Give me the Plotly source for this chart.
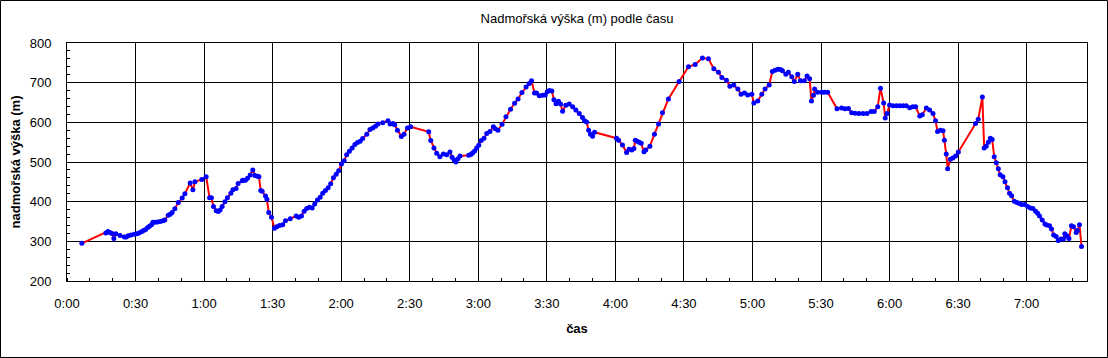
import plotly.graph_objects as go

# elapsed time in minutes
time_min = [
    6.5, 17.0, 17.9, 18.8, 19.7, 20.5, 21.4, 23.2, 25.1, 25.9, 26.8, 28.0, 29.4, 30.6, 31.5, 32.6,
    33.5, 34.4, 35.3, 36.1, 37.0, 37.6, 38.5, 39.6, 40.8, 42.0, 42.8, 44.3, 45.2, 46.0, 47.2, 48.7,
    50.4, 51.6, 53.9, 55.1, 56.0, 59.0, 60.9, 62.4, 63.2, 64.1, 65.3, 66.2, 67.0, 67.9, 69.1, 70.2,
    71.7, 72.6, 74.0, 74.9, 76.7, 77.0, 78.1, 79.0, 80.2, 81.3, 82.2, 83.4, 84.0, 84.8, 85.4, 86.9,
    87.5, 88.3, 89.5, 90.8, 91.8, 93.0, 94.4, 95.6, 97.7, 100.3, 101.4, 102.6, 103.8, 104.9, 106.1,
    107.3, 108.4, 109.6, 110.8, 111.9, 113.1, 114.3, 115.4, 116.6, 117.8, 118.9, 120.1, 121.3, 122.4,
    123.6, 124.8, 126.0, 127.1, 128.3, 129.4, 131.2, 132.6, 133.8, 135.0, 136.1, 138.2, 140.5, 141.4,
    142.6, 143.4, 144.6, 146.3, 147.5, 149.0, 150.4, 158.3, 159.2, 160.6, 161.8, 163.2, 164.7, 166.2,
    167.6, 168.5, 169.4, 170.2, 171.1, 172.0, 175.8, 176.7, 177.5, 178.4, 179.3, 180.2, 181.3, 182.5,
    183.7, 185.1, 186.6, 187.4, 188.6, 190.4, 192.1, 194.1, 195.9, 197.4, 199.1, 200.9, 202.3, 203.3,
    204.6, 205.5, 206.7, 208.1, 209.3, 210.2, 211.1, 212.2, 213.1, 214.0, 215.1, 216.0, 216.9, 218.3,
    219.8, 221.3, 222.7, 224.2, 225.6, 226.5, 227.4, 228.3, 229.1, 230.0, 230.9, 240.5, 241.4, 243.1,
    244.9, 246.0, 247.2, 248.1, 248.7, 249.5, 250.4, 251.3, 252.5, 253.3, 255.1, 257.1, 258.9, 260.6,
    263.2, 267.9, 272.0, 274.9, 278.1, 280.7, 283.1, 285.1, 286.6, 288.6, 290.1, 291.8, 293.6, 295.0,
    296.5, 297.9, 299.7, 300.6, 302.3, 304.1, 305.5, 307.3, 308.7, 309.9, 311.1, 312.2, 313.1, 314.6,
    315.7, 317.2, 318.3, 319.8, 321.0, 322.7, 323.9, 325.0, 325.8, 326.7, 327.2, 328.5, 330.3, 331.5,
    332.9, 337.0, 339.0, 340.5, 342.0, 343.4, 344.9, 346.6, 348.4, 350.1, 351.9, 353.3, 354.8, 356.0,
    357.4, 358.1, 358.9, 360.0, 361.5, 363.0, 364.4, 365.9, 367.3, 368.8, 370.2, 371.4, 373.2, 374.3,
    376.1, 377.5, 379.0, 380.1, 381.0, 382.2, 383.4, 384.0, 384.8, 385.4, 386.6, 387.7, 388.9, 390.1,
    397.6, 398.8, 400.6, 401.4, 402.3, 403.2, 404.1, 404.9, 405.8, 406.7, 407.6, 408.4, 409.6, 410.5,
    411.6, 412.5, 413.4, 414.6, 415.7, 416.6, 417.8, 419.2, 420.4, 421.6, 422.7, 423.9, 424.8, 425.6,
    426.8, 428.0, 428.8, 430.0, 430.9, 431.8, 432.9, 433.8, 435.0, 436.1, 436.7, 437.6, 438.5, 439.6,
    440.5, 441.7, 442.2, 443.1, 444.0,
]

# altitude in metres
altitude_m = [
    295, 321, 325, 322, 320, 307, 319, 315, 311, 311, 314, 316, 318, 319, 321, 324,
    327, 330, 335, 338, 342, 348, 348, 349, 350, 352, 354, 366, 368, 373, 382, 398,
    409, 420, 447, 430, 450, 456, 463, 410, 410, 388, 377, 375, 379, 388, 400, 410,
    421, 430, 433, 446, 453, 454, 454, 459, 467, 480, 466, 464, 463, 428, 426, 414,
    406, 373, 361, 333, 337, 340, 342, 352, 357, 364, 361, 364, 376, 383, 386,
    384, 394, 404, 411, 421, 428, 435, 445, 460, 469, 478, 495, 503, 518,
    527, 535, 544, 549, 552, 559, 570, 582, 586, 590, 596, 599, 604, 596,
    597, 594, 580, 564, 570, 586, 589, 576, 554, 535, 522, 513, 520, 518,
    525, 512, 505, 500, 508, 515, 517, 519, 523, 528, 535, 542, 554, 560,
    572, 577, 589, 584, 580, 595, 614, 633, 648, 659, 675, 689, 698, 705,
    674, 674, 667, 668, 669, 677, 680, 679, 657, 647, 653, 646, 628, 643,
    646, 639, 631, 622, 612, 604, 601, 580, 570, 565, 575, 560, 555, 543,
    524, 532, 530, 534, 555, 552, 550, 547, 526, 530, 540, 570, 596, 624,
    659, 703, 740, 746, 762, 760, 735, 726, 713, 706, 691, 694, 684, 671,
    674, 669, 671, 649, 654, 671, 684, 694, 728, 731, 734, 733, 730, 721,
    726, 715, 703, 721, 705, 705, 717, 710, 654, 668, 684, 676, 676, 676,
    676, 634, 636, 634, 635, 624, 623, 622, 622, 622, 627, 627, 639, 686,
    649, 611, 622, 644, 642, 642, 642, 642, 642, 637, 639, 639, 616, 619,
    636, 631, 622, 604, 577, 580, 579, 555, 520, 483, 507, 510, 515, 525,
    597, 608, 664, 535, 540, 550, 560, 557, 513, 498, 483, 468, 463, 450,
    435, 421, 415, 401, 398, 396, 393, 393, 388, 384, 383, 376, 371, 364,
    354, 344, 341, 339, 331, 316, 312, 302, 306, 306, 319, 314, 307, 339,
    337, 322, 327, 342, 287,
]

x_tick_vals = [0, 30, 60, 90, 120, 150, 180, 210, 240, 270, 300, 330, 360, 390, 420]
x_tick_text = ["0:00", "0:30", "1:00", "1:30", "2:00", "2:30", "3:00", "3:30",
               "4:00", "4:30", "5:00", "5:30", "6:00", "6:30", "7:00"]
x_max = 446.4  # 0.31 day

W, H = 1108, 358
ML, MR, MT, MB = 67, 21, 43, 77
FONT = "Liberation Sans, Arial, sans-serif"

fig = go.Figure()
fig.add_trace(go.Scatter(
    x=time_min, y=altitude_m, mode="lines+markers",
    line=dict(color="#FF0000", width=2),
    marker=dict(color="#0000FF", size=5, symbol="circle"),
    showlegend=False, hoverinfo="skip",
))

pw = W - ML - MR
ph = H - MT - MB
fig.add_shape(type="rect", xref="paper", yref="paper",
              x0=(0.5 - ML) / pw, x1=(W - 0.5 - ML) / pw,
              y0=-(MB - 0.5) / ph, y1=1 + (MT - 0.5) / ph,
              line=dict(color="black", width=1), fillcolor="rgba(0,0,0,0)", layer="below")

fig.update_layout(
    width=W, height=H,
    margin=dict(l=ML, r=MR, t=MT, b=MB, pad=0),
    paper_bgcolor="white", plot_bgcolor="white",
    font=dict(family=FONT, size=13, color="black"),
    title=dict(text="Nadmořská výška (m) podle času", x=(ML + pw / 2) / W, xanchor="center",
               y=1 - 18 / H, yanchor="middle", font=dict(size=13, color="black")),
    xaxis=dict(
        range=[0, x_max], tickmode="array", tickvals=x_tick_vals, ticktext=x_tick_text,
        showgrid=True, gridcolor="black", gridwidth=1, automargin=False,
        showline=True, linecolor="black", linewidth=1, mirror=True,
        ticks="", ticklabelstandoff=10, zeroline=False,
        tickfont=dict(size=13),
        minor=dict(dtick=10, ticks="inside", ticklen=3, tickcolor="black", showgrid=False),
        title=dict(text="<b>čas</b>", standoff=14, font=dict(size=13)),
    ),
    yaxis=dict(
        range=[200, 800], dtick=100, tick0=200,
        showgrid=True, gridcolor="black", gridwidth=1, automargin=False,
        showline=True, linecolor="black", linewidth=1, mirror=True,
        ticks="", ticklabelstandoff=12, zeroline=False,
        tickfont=dict(size=13),
        minor=dict(dtick=20, ticks="inside", ticklen=3, tickcolor="black", showgrid=False),
        title=dict(text="<b>nadmořská výška (m)</b>", standoff=6, font=dict(size=13)),
    ),
)

fig.write_html("out.html", config={"displayModeBar": False, "staticPlot": True},
               post_script="document.body.style.margin='0';document.body.style.overflow='hidden';")
